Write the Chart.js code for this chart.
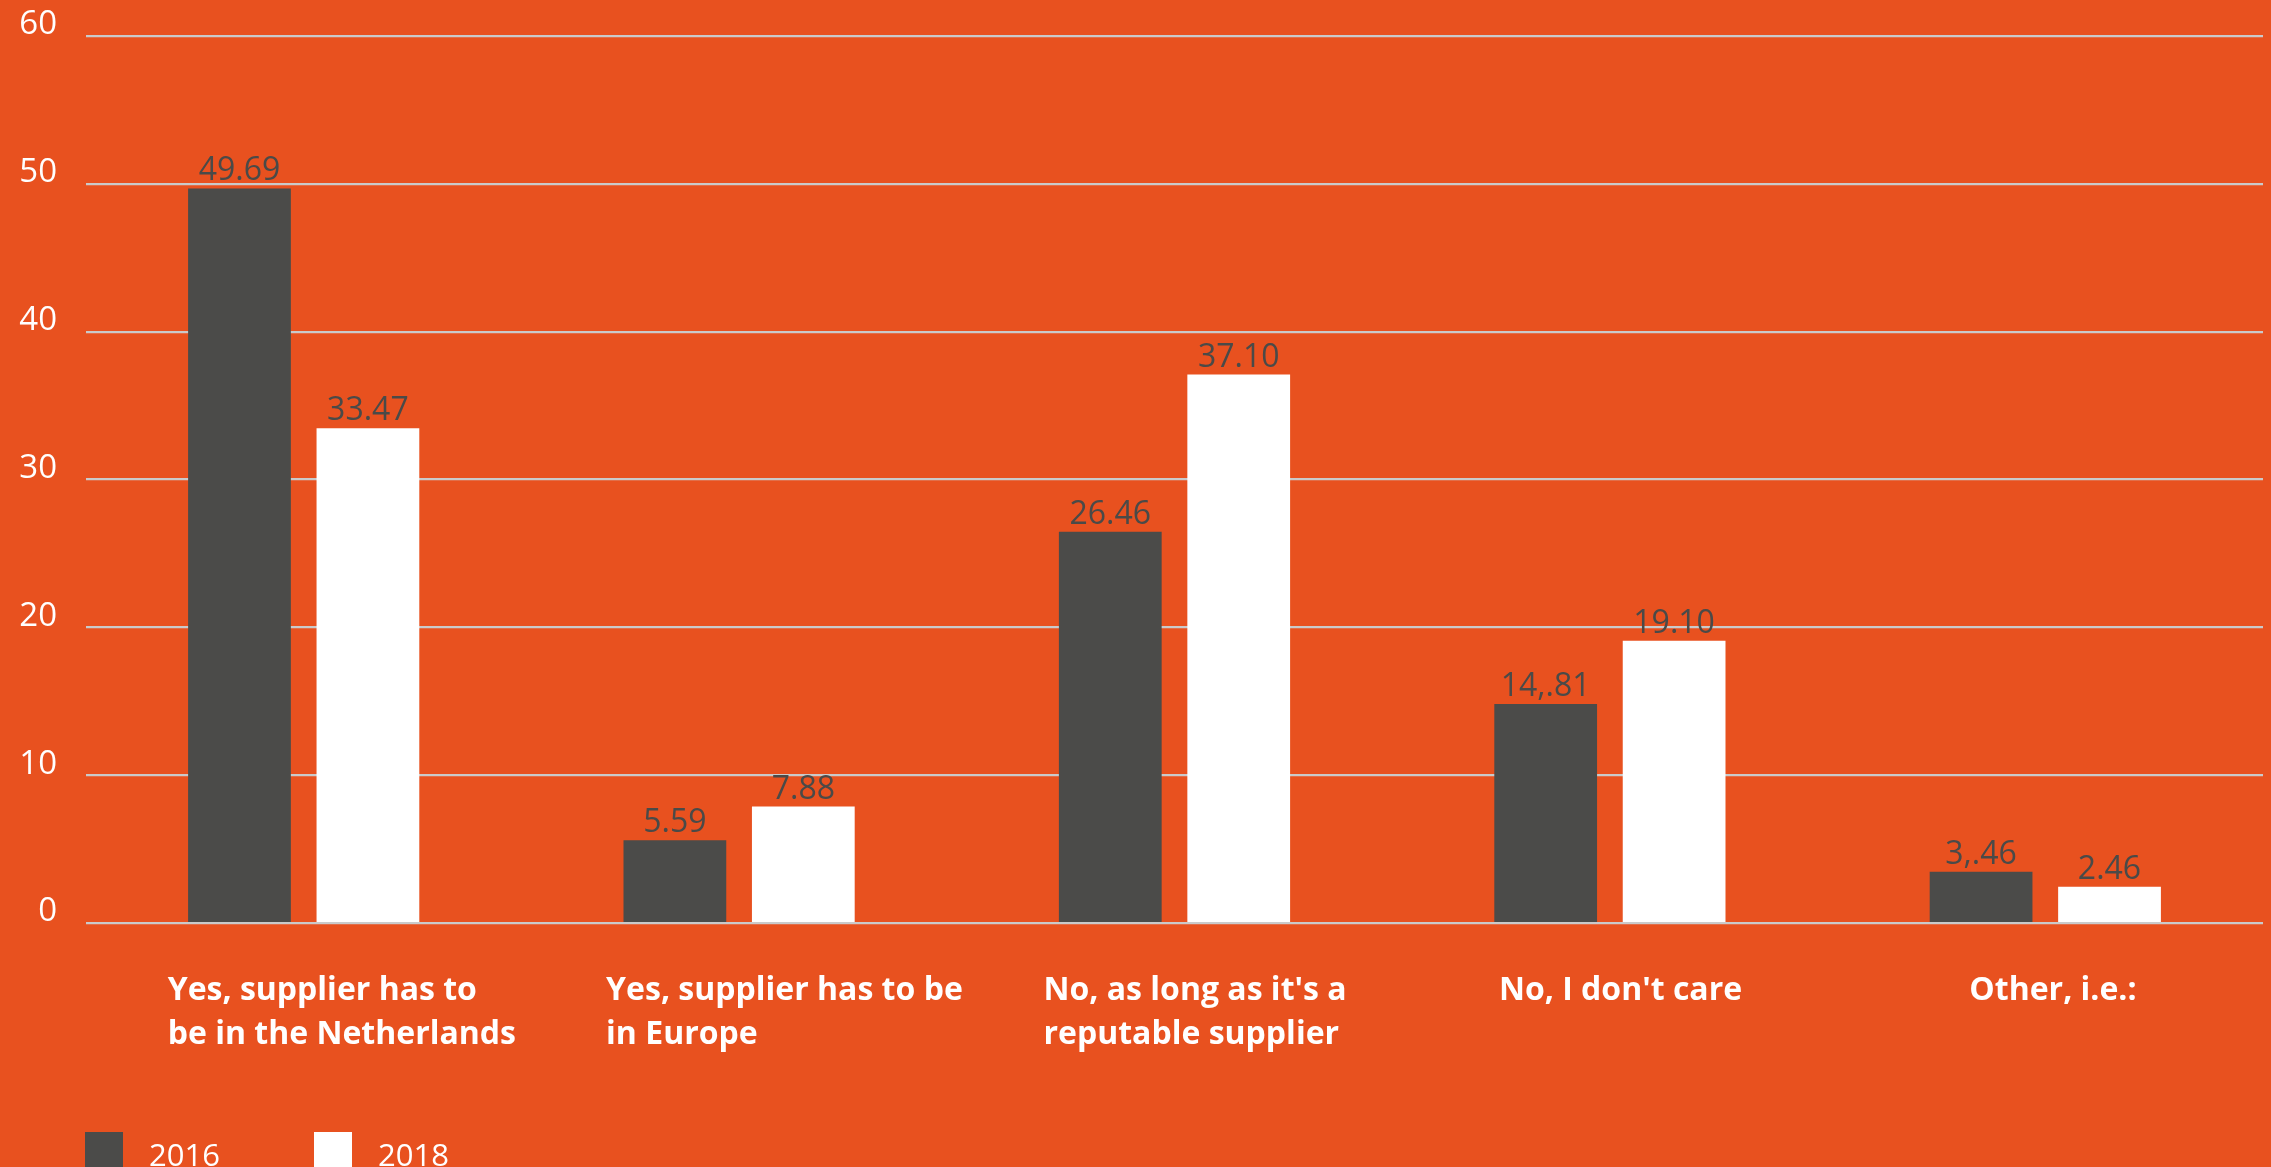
<!DOCTYPE html>
<html>
<head>
<meta charset="utf-8">
<script src="https://cdn.jsdelivr.net/npm/chart.js@4/dist/chart.umd.min.js"></script>
<style>
  html, body { margin: 0; padding: 0; background: #E8511F; }
  #wrap { position: relative; width: 2271px; height: 1167px; overflow: hidden; background: #E8511F; }
  #c { position: absolute; left: 0; top: 0; }
  #legend { position: absolute; left: 85px; top: 1132px; display: flex; }
  .lg-item { width: 229px; height: 38px; position: relative; }
  .lg-box { position: absolute; left: 0; top: 0; width: 38px; height: 38px; }
  .lg-text { position: absolute; left: 64px; top: 1px; line-height: 33px; font: 31px "Open Sans", sans-serif; color: #fff; }
</style>
</head>
<body>
<div id="wrap">
  <canvas id="c" width="2271" height="1167"></canvas>
  <div id="legend"></div>
</div>
<script>
// ---- data ----
const categories = [
  ["Yes, supplier has to", "be in the Netherlands"],
  ["Yes, supplier has to be", "in Europe"],
  ["No, as long as it's a", "reputable supplier"],
  ["No, I don't care"],
  ["Other, i.e.:"]
];
const seriesNames = ["2016", "2018"];
const values2016 = [49.69, 5.59, 26.46, 14.81, 3.46];
const values2018 = [33.47, 7.88, 37.10, 19.10, 2.46];
const valueLabels2016 = ["49.69", "5.59", "26.46", "14,.81", "3,.46"];
const valueLabels2018 = ["33.47", "7.88", "37.10", "19.10", "2.46"];
const yTickValues = [0, 10, 20, 30, 40, 50, 60];

// ---- styles ----
const COLOR_2016 = "#4B4B49";
const COLOR_2018 = "#FFFFFF";

const valueLabelPlugin = {
  id: "valueLabels",
  afterDatasetsDraw(chart, args, opts) {
    const ctx = chart.ctx;
    ctx.save();
    ctx.font = opts.font;
    ctx.fillStyle = opts.color;
    ctx.textAlign = "center";
    ctx.textBaseline = "alphabetic";
    chart.data.datasets.forEach((ds, di) => {
      const meta = chart.getDatasetMeta(di);
      meta.data.forEach((bar, i) => {
        ctx.fillText(ds.valueLabels[i], bar.x, bar.y - opts.gap);
      });
    });
    ctx.restore();
  }
};

const xLabelPlugin = {
  id: "xLabels",
  afterDraw(chart, args, opts) {
    const ctx = chart.ctx;
    const x = chart.scales.x;
    ctx.save();
    ctx.font = opts.font;
    ctx.fillStyle = opts.color;
    ctx.textAlign = "left";
    ctx.textBaseline = "alphabetic";
    chart.data.labels.forEach((lines, i) => {
      const px = x.getPixelForTick(i) + opts.shifts[i];
      lines.forEach((ln, j) => {
        ctx.fillText(ln, px, chart.chartArea.bottom + opts.top + j * opts.lineHeight);
      });
    });
    ctx.restore();
  }
};

const htmlLegendPlugin = {
  id: "htmlLegend",
  afterUpdate(chart) {
    const el = document.getElementById("legend");
    el.innerHTML = "";
    chart.data.datasets.forEach(ds => {
      const item = document.createElement("div");
      item.className = "lg-item";
      const box = document.createElement("div");
      box.className = "lg-box";
      box.style.background = ds.backgroundColor;
      const txt = document.createElement("div");
      txt.className = "lg-text";
      txt.textContent = ds.label;
      item.appendChild(box);
      item.appendChild(txt);
      el.appendChild(item);
    });
  }
};

new Chart(document.getElementById("c"), {
  type: "bar",
  data: {
    labels: categories,
    datasets: [
      { label: seriesNames[0], data: values2016, valueLabels: valueLabels2016, backgroundColor: COLOR_2016, borderWidth: 0 },
      { label: seriesNames[1], data: values2018, valueLabels: valueLabels2018, backgroundColor: COLOR_2018, borderWidth: 0 }
    ]
  },
  options: {
    responsive: false,
    animation: false,
    devicePixelRatio: 1,
    layout: { padding: { top: 36, right: 8, left: 0, bottom: 0 } },
    datasets: { bar: { categoryPercentage: 0.59, barPercentage: 0.8 } },
    plugins: {
      legend: { display: false },
      tooltip: { enabled: false },
      valueLabels: { font: '32px "Open Sans", sans-serif', color: "#4A4A48", gap: 8 },
      xLabels: { font: 'bold 32px "Open Sans", sans-serif', color: "#FFFFFF", top: 77, lineHeight: 44, shifts: [-136, -133, -131, -111, -76] }
    },
    scales: {
      x: {
        grid: { display: false },
        border: { display: false },
        ticks: { display: false },
        afterFit(scale) { scale.height = 244; }
      },
      y: {
        min: 0,
        max: 60,
        afterBuildTicks(scale) { scale.ticks = yTickValues.map(v => ({ value: v })); },
        afterFit(scale) { scale.width = 86; },
        grid: { color: "#CACACA", lineWidth: 2.2, drawTicks: true, tickLength: 21, tickColor: "transparent" },
        border: { display: false },
        ticks: {
          color: "#FFFFFF",
          font: { family: '"Open Sans", sans-serif', size: 33 },
          padding: 8,
          labelOffset: -11
        }
      }
    }
  },
  plugins: [valueLabelPlugin, xLabelPlugin, htmlLegendPlugin]
});
</script>
</body>
</html>
